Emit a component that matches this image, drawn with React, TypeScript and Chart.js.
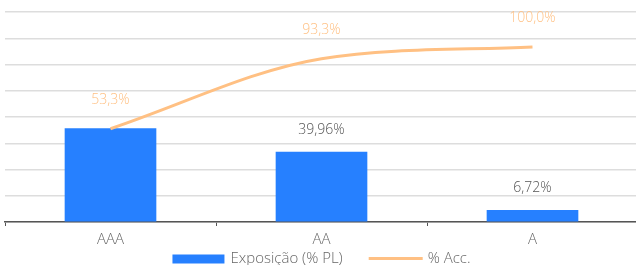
import React, { useEffect, useRef } from "react";
import { Chart, registerables } from "chart.js";

Chart.register(...registerables);

const categories = ["AAA", "AA", "A"];
const exposicao = [53.32, 39.96, 6.72];
const acumulado = [53.3, 93.3, 100.0];
const showBarLabel = [false, true, true];
const seriesNames = ["Exposição (% PL)", "% Acc."];

const FONT = "'Open Sans', sans-serif";
const BLUE = "#2680FF";
const ORANGE = "#FFC083";

const labelsPlugin = {
  id: "valueLabels",
  afterDatasetsDraw(chart: any) {
    const ctx = chart.ctx;
    ctx.save();
    ctx.font = `300 14px ${FONT}`;
    ctx.textAlign = "center";
    ctx.textBaseline = "middle";
    const barMeta = chart.getDatasetMeta(0);
    barMeta.data.forEach((el: any, i: number) => {
      if (!showBarLabel[i]) return;
      ctx.fillStyle = "#555555";
      ctx.fillText(exposicao[i].toFixed(2).replace(".", ",") + "%", el.x, el.y - 22);
    });
    const lineMeta = chart.getDatasetMeta(1);
    lineMeta.data.forEach((el: any, i: number) => {
      ctx.fillStyle = ORANGE;
      ctx.fillText(acumulado[i].toFixed(1).replace(".", ",") + "%", el.x, el.y - 29);
    });
    ctx.restore();
  },
};

const legendPlugin = {
  id: "customLegend",
  afterDraw(chart: any) {
    const ctx = chart.ctx;
    const area = chart.chartArea;
    ctx.save();
    ctx.font = `300 15px ${FONT}`;
    ctx.textBaseline = "middle";
    ctx.textAlign = "left";
    const w1 = ctx.measureText(seriesNames[0]).width;
    const w2 = ctx.measureText(seriesNames[1]).width;
    const total = 52 + 6 + w1 + 26 + 54 + 5 + w2;
    let x = (area.left + area.right) / 2 - total / 2;
    const cy = 259;
    ctx.fillStyle = BLUE;
    ctx.fillRect(x, cy - 4.5, 52, 9);
    x += 52 + 6;
    ctx.fillStyle = "#666666";
    ctx.fillText(seriesNames[0], x, cy);
    x += w1 + 26;
    ctx.strokeStyle = ORANGE;
    ctx.lineWidth = 3;
    ctx.beginPath();
    ctx.moveTo(x, cy - 0.5);
    ctx.lineTo(x + 54, cy - 0.5);
    ctx.stroke();
    x += 54 + 5;
    ctx.fillStyle = "#666666";
    ctx.fillText(seriesNames[1], x, cy);
    ctx.restore();
  },
};

export default function App() {
  const ref = useRef<HTMLCanvasElement>(null);
  useEffect(() => {
    document.body.style.margin = "0";
    const chart = new Chart(ref.current!, {
      type: "bar",
      data: {
        labels: categories,
        datasets: [
          {
            type: "bar",
            label: seriesNames[0],
            data: exposicao,
            backgroundColor: BLUE,
            borderWidth: 0,
            barThickness: 91,
            order: 1,
          } as any,
          {
            type: "line",
            label: seriesNames[1],
            data: acumulado,
            borderColor: ORANGE,
            backgroundColor: ORANGE,
            borderWidth: 3,
            pointRadius: 0,
            cubicInterpolationMode: "monotone",
            order: 0,
          } as any,
        ],
      },
      options: {
        responsive: false,
        animation: false,
        layout: { padding: { left: 5, right: 0, top: 12, bottom: 11 } },
        plugins: {
          tooltip: { enabled: false },
          legend: { display: false },
        },
        scales: {
          x: {
            grid: { drawOnChartArea: false, drawTicks: true, tickLength: 4, color: "#555555" },
            border: { display: true, color: "#555555", width: 1.5 },
            ticks: { color: "#666666", padding: 5, font: { family: FONT, size: 15, weight: 300 as any } },
          },
          y: {
            min: 0,
            max: 120,
            ticks: { display: false, stepSize: 15 },
            grid: { color: "#dddddd", lineWidth: 1.5, drawTicks: false },
            border: { display: false },
          },
        },
      },
      plugins: [labelsPlugin, legendPlugin],
    });
    return () => chart.destroy();
  }, []);
  return (
    <div style={{ width: 636, height: 265, overflow: "hidden" }}>
      <canvas ref={ref} width={638} height={265} style={{ display: "block" }} />
    </div>
  );
}
